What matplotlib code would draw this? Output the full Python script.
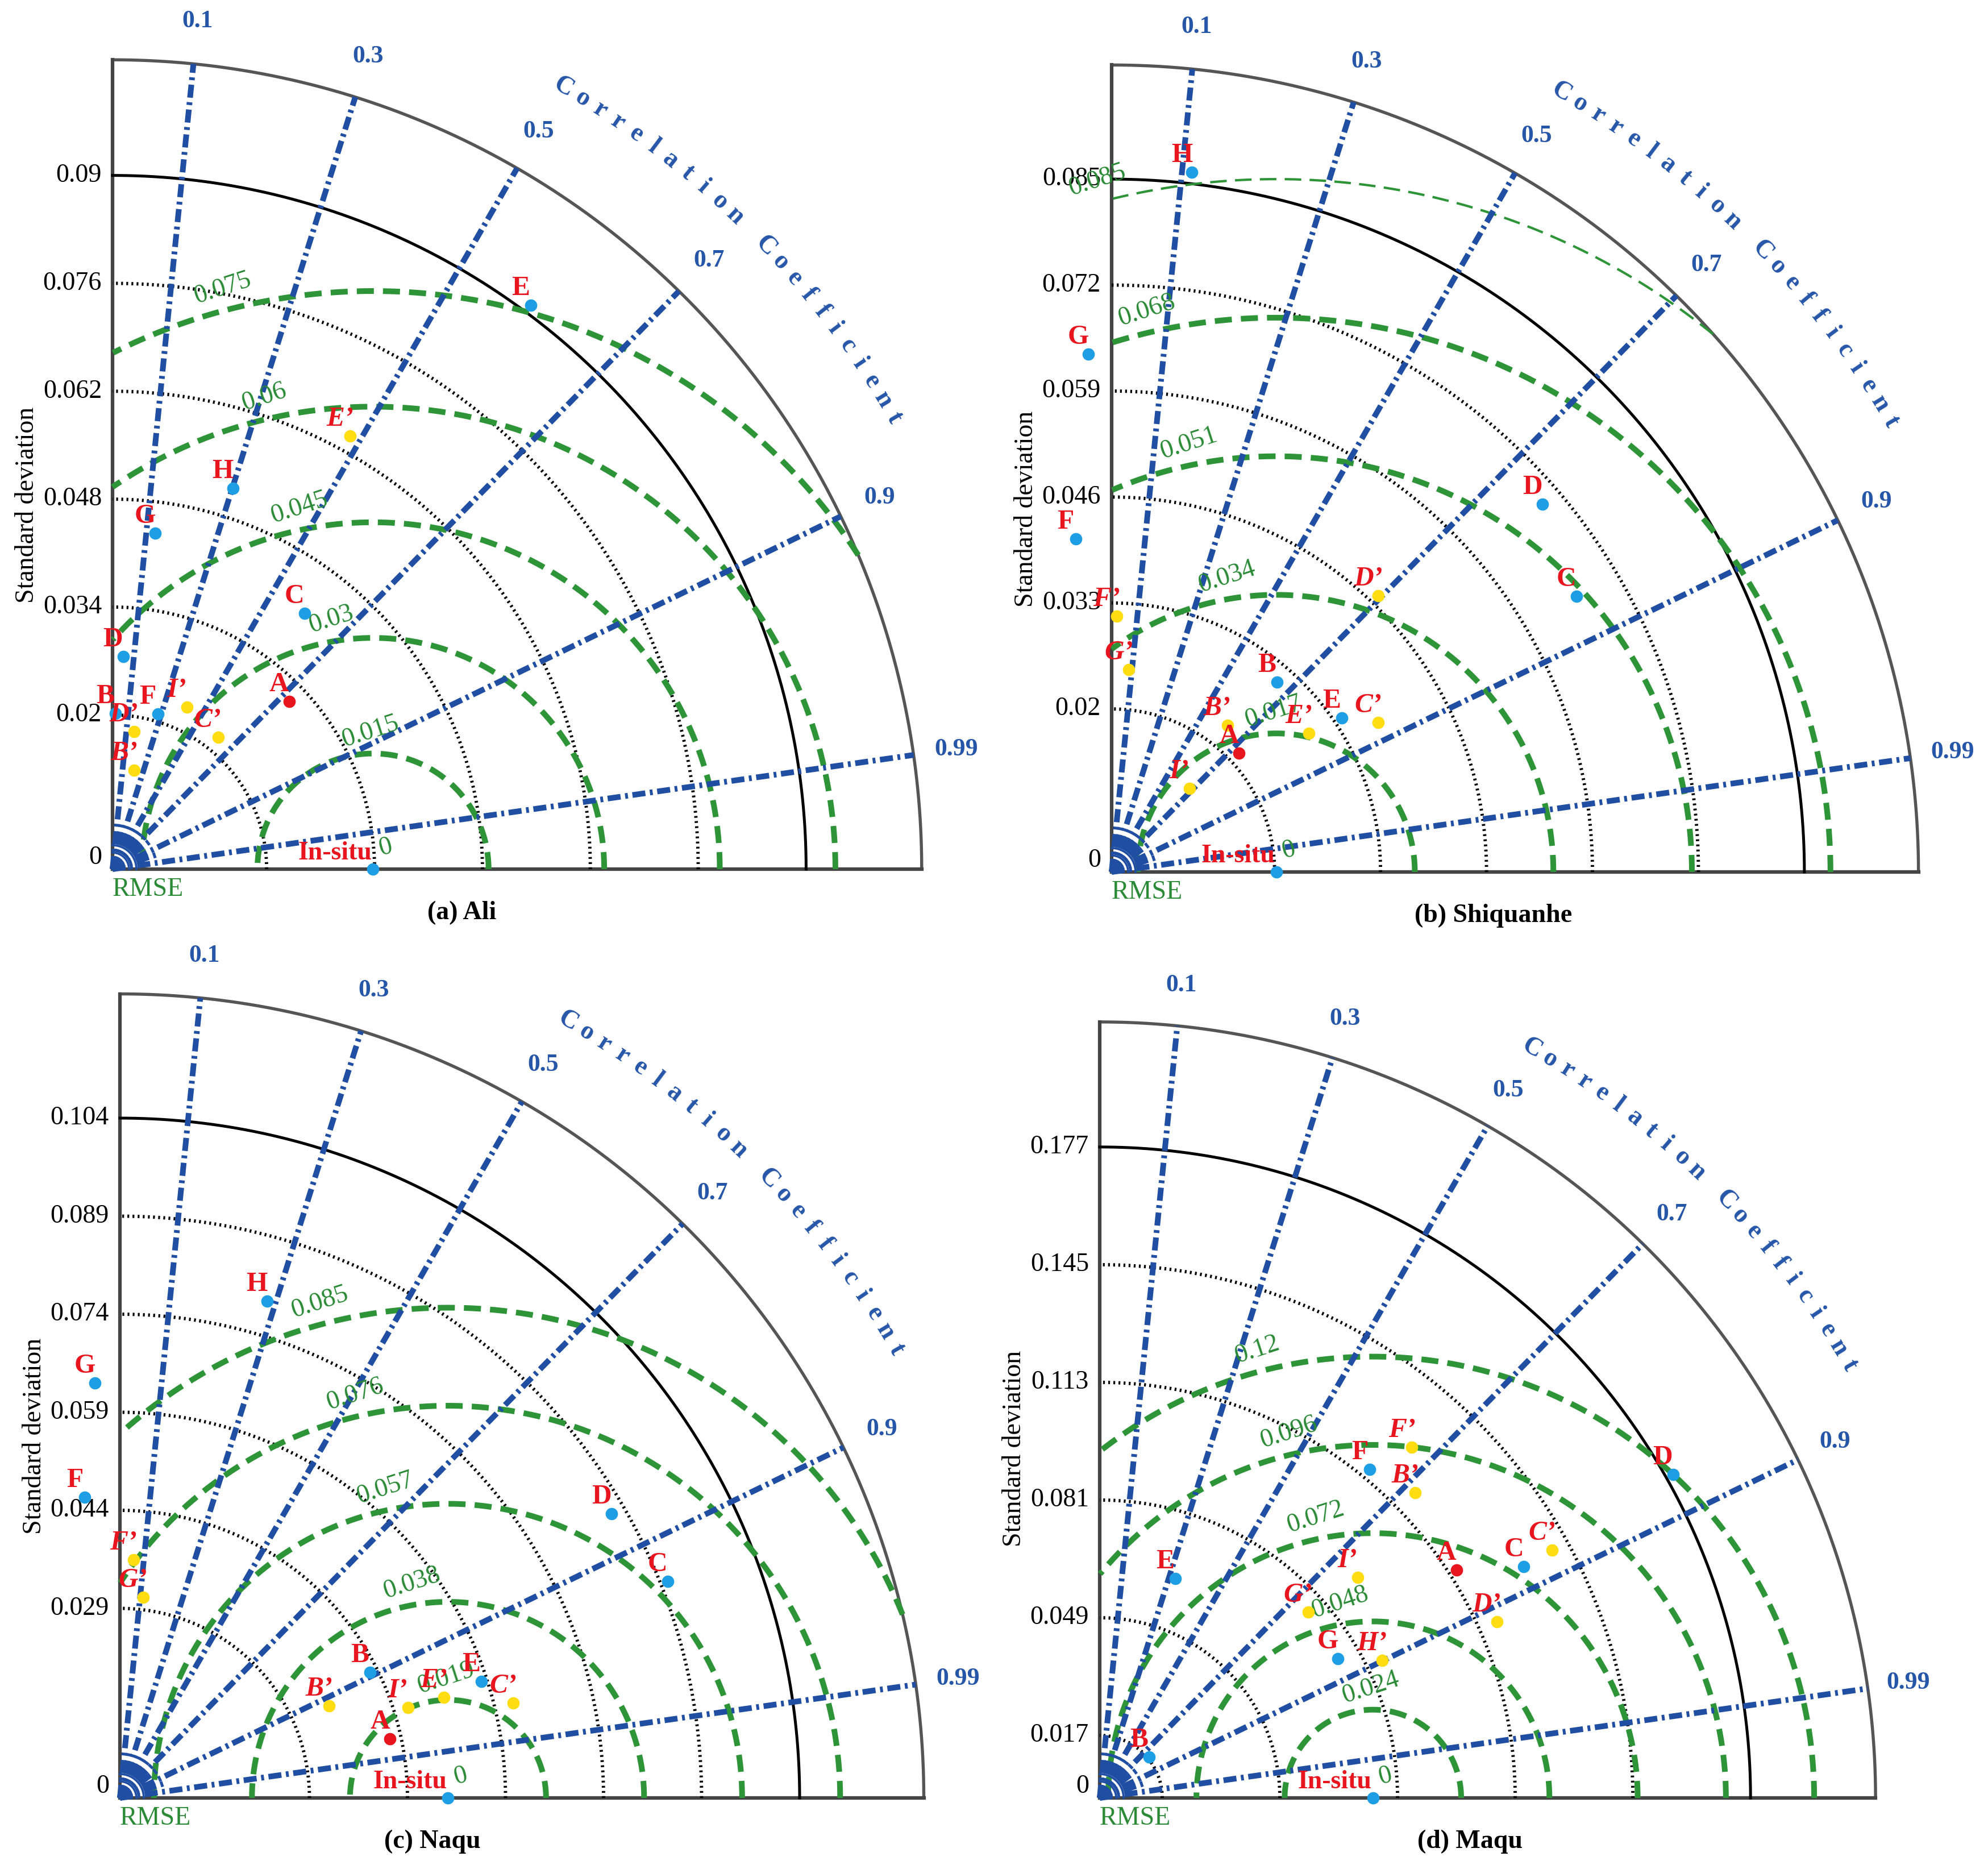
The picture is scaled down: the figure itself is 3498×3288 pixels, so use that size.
import numpy as np
import matplotlib
matplotlib.use('Agg')
import matplotlib.pyplot as plt
from matplotlib.patches import Wedge

W, H = 3498, 3288
DPI = 300
plt.rcParams['font.family'] = ['Liberation Serif', 'DejaVu Serif']

# ------------------------------------------------------------------ data
corr_major = [0.1, 0.3, 0.5, 0.7, 0.9, 0.99]
corr_minor = [0.2, 0.4, 0.6, 0.8, 0.95]

# (a) Ali
a_names = ['A', 'B', 'C', 'D', 'E', 'F', 'G', 'H', 'B’', 'C’', 'D’', 'E’', 'I’']
a_std = [0.0316, 0.0202, 0.0415, 0.0276, 0.0911, 0.0210, 0.0439, 0.0518,
         0.0131, 0.0219, 0.0181, 0.0641, 0.0231]
a_corr = [0.726, 0.02, 0.60, 0.05, 0.596, 0.28, 0.126, 0.302,
          0.214, 0.625, 0.155, 0.481, 0.418]
a_ref = 0.0338
a_ticks = [0, 0.02, 0.034, 0.048, 0.062, 0.076, 0.09]
a_ticklabels = ['0', '0.02', '0.034', '0.048', '0.062', '0.076', '0.09']
a_rmse = [0.015, 0.03, 0.045, 0.06, 0.075]
a_rmse_labels = ['0.015', '0.03', '0.045', '0.06', '0.075']

# (b) Shiquanhe
b_names = ['A', 'B', 'C', 'D', 'E', 'F', 'G', 'H', 'B’', 'C’', 'D’', 'E’', 'F’', 'G’', 'I’']
b_std = [0.0214, 0.0309, 0.0663, 0.0695, 0.0340, 0.0411, 0.0636, 0.0864,
         0.0229, 0.0375, 0.0471, 0.0296, 0.0314, 0.0249, 0.0140]
b_corr = [0.731, 0.657, 0.860, 0.761, 0.831, -0.107, -0.045, 0.114,
          0.620, 0.872, 0.695, 0.818, 0.019, 0.085, 0.680]
b_ref = 0.0202
b_ticks = [0, 0.02, 0.033, 0.046, 0.059, 0.072, 0.085]
b_ticklabels = ['0', '0.02', '0.033', '0.046', '0.059', '0.072', '0.085']
b_rmse = [0.017, 0.034, 0.051, 0.068, 0.085]
b_rmse_labels = ['0.017', '0.034', '0.051', '0.068', '0.085']

# (c) Naqu
c_names = ['A', 'B', 'C', 'D', 'E', 'F', 'G', 'H', 'B’', 'C’', 'E’', 'F’', 'G’', 'I’']
c_std = [0.0423, 0.0428, 0.0901, 0.0869, 0.0581, 0.0463, 0.0636, 0.0793,
         0.0350, 0.0619, 0.0519, 0.0365, 0.0309, 0.0462]
c_corr = [0.977, 0.894, 0.930, 0.866, 0.952, -0.116, -0.060, 0.284,
          0.915, 0.972, 0.955, 0.056, 0.114, 0.954]
c_ref = 0.0502
c_ticks = [0, 0.029, 0.044, 0.059, 0.074, 0.089, 0.104]
c_ticklabels = ['0', '0.029', '0.044', '0.059', '0.074', '0.089', '0.104']
c_rmse = [0.015, 0.03, 0.045, 0.06, 0.075]
c_rmse_labels = ['0.019', '0.038', '0.057', '0.076', '0.085']

# (d) Maqu
d_names = ['A', 'B', 'C', 'D', 'E', 'F', 'G', 'B’', 'C’', 'D’', 'F’', 'G’', 'H’', 'I’']
d_std = [0.1151, 0.0175, 0.1314, 0.1790, 0.0631, 0.1157, 0.0750,
         0.1194, 0.1403, 0.1182, 0.1277, 0.0760, 0.0854, 0.0923]
d_corr = [0.843, 0.770, 0.878, 0.871, 0.325, 0.635, 0.863,
          0.719, 0.877, 0.914, 0.665, 0.746, 0.899, 0.760]
d_ref = 0.0743
d_ticks = [0, 0.017, 0.049, 0.081, 0.113, 0.145, 0.177]
d_ticklabels = ['0', '0.017', '0.049', '0.081', '0.113', '0.145', '0.177']
d_rmse = [0.024, 0.048, 0.072, 0.096, 0.12]
d_rmse_labels = ['0.024', '0.048', '0.072', '0.096', '0.12']

# ------------------------------------------------------------------ style
BLUE_LINE = '#1F4EA3'
BLUE_TXT = '#2656A8'
GREEN = '#2E9438'
GREEN_TXT = '#2A8A35'
RED = '#E8141E'
PT_BLUE = '#1E9FE5'
PT_YEL = '#FFDD10'
PT_RED = '#E8141E'
RMSE_LABEL_ANG = [91, 99.5, 101.5, 103, 104.5]

layouts = {
    'a': dict(origin=(198, 1529), scale=13560, rout=0.105, title='(a) Ali', title_dx=615),
    'b': dict(origin=(1956, 1534), scale=14340, rout=0.099, title='(b) Shiquanhe', title_dx=672,
              thin_last=True),
    'c': dict(origin=(211, 3163), scale=11500, rout=0.123, title='(c) Naqu', title_dx=550),
    'd': dict(origin=(1935, 3163), scale=6470, rout=0.211, title='(d) Maqu', title_dx=651),
}

fig = plt.figure(figsize=(W / DPI, H / DPI), dpi=DPI)
DASHDOT = (0, (2.3, 0.8, 0.5, 0.8))


def draw_panel(names, std, corr, ref, ticks, ticklabels, rmse, rmse_labels, lay):
    s = lay['scale']
    ox, oy = lay['origin']
    R = lay['rout']
    px = 1.0 / s
    xmin, xmax = -0.3 * R, 1.25 * R
    ymin, ymax = -0.16 * R, 1.25 * R
    left = (ox + xmin * s) / W
    bottom = (H - (oy - ymin * s)) / H
    ax = fig.add_axes([left, bottom, (xmax - xmin) * s / W, (ymax - ymin) * s / H])
    ax.set_xlim(xmin, xmax)
    ax.set_ylim(ymin, ymax)
    ax.axis('off')
    ax.patch.set_visible(False)

    th = np.linspace(0, np.pi / 2, 500)
    # rim and axes
    ax.plot(R * np.cos(th), R * np.sin(th), color='#555555', lw=1.3, zorder=2)
    ax.plot([0, 0], [0, R], color='#444444', lw=1.5, zorder=2)
    ax.plot([0, R], [0, 0], color='#444444', lw=1.5, zorder=2)

    # std arcs
    for t in ticks[1:-1]:
        ax.plot(t * np.cos(th), t * np.sin(th), color='black', lw=1.4,
                ls=(0, (0.55, 1.0)), zorder=2)
    tm = ticks[-1]
    ax.plot(tm * np.cos(th), tm * np.sin(th), color='black', lw=1.2, zorder=2)
    for t, lab in zip(ticks, ticklabels):
        yy = t + (20 * px if t == 0 else 0)
        ax.text(-19 * px, yy, lab, ha='right', va='center', fontsize=11, color='black')
    ax.text(-150 * px, 0.45 * R, 'Standard deviation', rotation=90, ha='center',
            va='center', fontsize=11)

    # correlation rays
    for c in corr_major:
        a = np.arccos(c)
        ax.plot([0, R * np.cos(a)], [0, R * np.sin(a)], color=BLUE_LINE, lw=2.4,
                ls=DASHDOT, zorder=3)
        rl = 1.053 * R
        ax.text(rl * np.cos(a), rl * np.sin(a), f'{c:g}', color=BLUE_TXT,
                fontweight='bold', fontsize=10.5, ha='center', va='center')
    for c in corr_minor:
        a = np.arccos(c)
        ax.plot([0, 85 * px * np.cos(a)], [0, 85 * px * np.sin(a)], color=BLUE_LINE,
                lw=2.4, ls=DASHDOT, zorder=3)
    ax.add_patch(Wedge((0, 0), 17 * px, 0, 90, color=BLUE_LINE, zorder=3))
    for rr in (29 * px, 42 * px):
        ax.plot(rr * np.cos(th), rr * np.sin(th), color=BLUE_LINE, lw=0.9, zorder=3)

    # curved title
    txt = 'Correlation Coefficient'
    angs = np.linspace(60, 30, len(txt))
    rc = 1.115 * R
    for ch, ag in zip(txt, angs):
        if ch == ' ':
            continue
        ar = np.deg2rad(ag)
        ax.text(rc * np.cos(ar), rc * np.sin(ar), ch, rotation=ag - 90,
                rotation_mode='anchor', ha='center', va='center', color=BLUE_TXT,
                fontweight='bold', fontsize=11)

    # RMSE arcs
    t = np.linspace(0, np.pi, 1500)
    for i, (rr, lab) in enumerate(zip(rmse, rmse_labels)):
        x = ref + rr * np.cos(t)
        y = rr * np.sin(t)
        mask = (x >= 0) & (x ** 2 + y ** 2 <= R ** 2)
        x = np.where(mask, x, np.nan)
        if lay.get('thin_last') and i == len(rmse) - 1:
            ax.plot(x, y, color=GREEN, lw=1.0, ls=(0, (7, 3.5)), zorder=2)
        else:
            ax.plot(x, y, color=GREEN, lw=2.4, ls=(0, (3.0, 1.6)), zorder=2)
        ag = np.deg2rad(RMSE_LABEL_ANG[i])
        rl = rr + 38 * px
        ax.text(ref + rl * np.cos(ag), rl * np.sin(ag), lab, rotation=18,
                color=GREEN_TXT, fontsize=11, ha='center', va='center', zorder=4)
    ax.text(ref + 22 * px, 38 * px, '0', rotation=15, color=GREEN_TXT, fontsize=11,
            ha='center', va='center')
    ax.text(62 * px, -36 * px, 'RMSE', color=GREEN_TXT, fontsize=11, ha='center', va='center')

    # reference
    ax.plot([ref], [0], 'o', color=PT_BLUE, ms=5.2, mec='none', clip_on=False, zorder=6)
    ax.text(ref - 2 * px, 28 * px, 'In-situ', ha='right', va='center', color=RED,
            fontweight='bold', fontsize=11, zorder=6)

    # models
    for n, sd, cr in zip(names, std, corr):
        ang = np.arccos(cr)
        x, y = sd * np.cos(ang), sd * np.sin(ang)
        if n == 'A':
            col = PT_RED
        elif '’' in n:
            col = PT_YEL
        else:
            col = PT_BLUE
        ax.plot([x], [y], 'o', color=col, ms=5.2, mec='none', clip_on=False, zorder=6)
        ax.annotate(n, (x, y), xytext=(-4.3, 7.2), textcoords='offset points',
                    ha='center', va='center', color=RED, fontweight='bold',
                    fontstyle='italic' if '’' in n else 'normal', fontsize=11.5, zorder=7)

    ax.text(lay['title_dx'] * px, -77 * px, lay['title'], ha='center', va='center',
            fontweight='bold', fontsize=11)


draw_panel(a_names, a_std, a_corr, a_ref, a_ticks, a_ticklabels, a_rmse, a_rmse_labels, layouts['a'])
draw_panel(b_names, b_std, b_corr, b_ref, b_ticks, b_ticklabels, b_rmse, b_rmse_labels, layouts['b'])
draw_panel(c_names, c_std, c_corr, c_ref, c_ticks, c_ticklabels, c_rmse, c_rmse_labels, layouts['c'])
draw_panel(d_names, d_std, d_corr, d_ref, d_ticks, d_ticklabels, d_rmse, d_rmse_labels, layouts['d'])

fig.savefig('out.png', dpi=DPI, facecolor='white')
